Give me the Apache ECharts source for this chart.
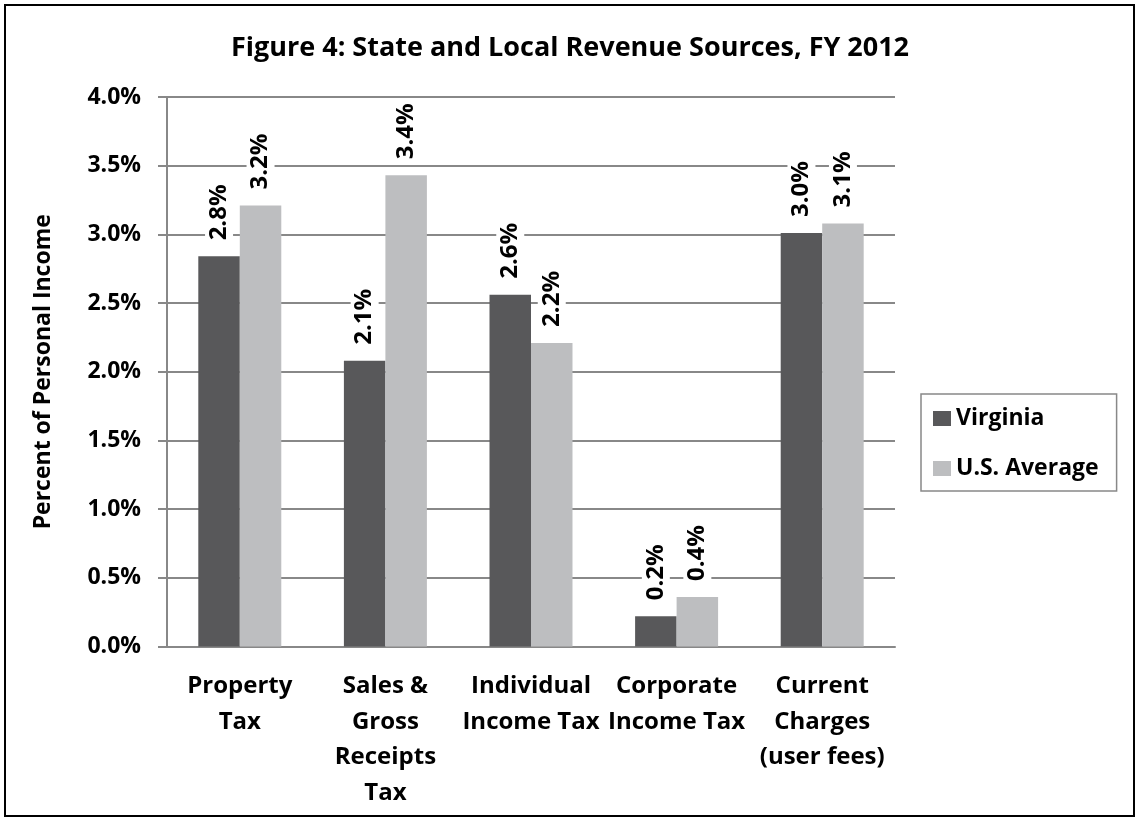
<!DOCTYPE html>
<html>
<head>
<meta charset="utf-8">
<script src="https://cdn.jsdelivr.net/npm/echarts@6/dist/echarts.min.js"></script>
<style>
html,body{margin:0;padding:0;background:#fff;}
#c{width:1140px;height:823px;}
</style>
</head>
<body>
<div id="c"></div>
<script>
const categories = ['Property\nTax', 'Sales &\nGross\nReceipts\nTax', 'Individual\nIncome Tax', 'Corporate\nIncome Tax', 'Current\nCharges\n(user fees)'];
const virginia = [2.84, 2.08, 2.56, 0.22, 3.01];
const usAverage = [3.21, 3.43, 2.21, 0.36, 3.08];
const seriesNames = ['Virginia', 'U.S. Average'];
const yTicks = {min: 0, max: 4, interval: 0.5};

const FONT = '"Open Sans"';
const chart = echarts.init(document.getElementById('c'));
const labelCfg = {
  show: true,
  position: 'top',
  rotate: 90,
  align: 'left',
  verticalAlign: 'middle',
  distance: 12,
  fontFamily: FONT,
  fontWeight: 'bold',
  fontSize: 24,
  color: '#000',
  backgroundColor: '#fff',
  padding: [2, 4, 2, 4],
  formatter: p => p.value.toFixed(1) + '%'
};
chart.setOption({
  backgroundColor: '#fff',
  animation: false,
  textStyle: {fontFamily: FONT},
  title: {
    text: 'Figure 4: State and Local Revenue Sources, FY 2012',
    left: 'center',
    top: 30,
    textStyle: {fontFamily: FONT, fontWeight: 'bold', fontSize: 27, color: '#000'}
  },
  graphic: [{
    type: 'rect',
    shape: {x: 5, y: 5, width: 1129, height: 811},
    style: {fill: 'none', stroke: '#000', lineWidth: 2},
    silent: true
  }],
  legend: {
    orient: 'vertical',
    left: 921,
    top: 394,
    padding: [13, 18, 11, 12],
    itemGap: 27,
    itemWidth: 18,
    itemHeight: 15,
    borderColor: '#888',
    borderWidth: 1.5,
    icon: 'rect',
    textStyle: {fontFamily: FONT, fontWeight: 'bold', fontSize: 23, color: '#000'},
    data: seriesNames
  },
  grid: {left: 167, right: 245, top: 97, bottom: 176.5, containLabel: false},
  xAxis: {
    type: 'category',
    data: categories,
    axisLine: {lineStyle: {color: '#888', width: 2}},
    axisTick: {show: false},
    axisLabel: {
      interval: 0,
      margin: 22,
      fontFamily: FONT,
      fontWeight: 'bold',
      fontSize: 24,
      lineHeight: 35.5,
      color: '#000'
    }
  },
  yAxis: {
    type: 'value',
    min: yTicks.min,
    max: yTicks.max,
    interval: yTicks.interval,
    name: 'Percent of Personal Income',
    nameLocation: 'middle',
    nameGap: 112,
    nameTextStyle: {fontFamily: FONT, fontWeight: 'bold', fontSize: 23, color: '#000'},
    axisLine: {show: true, lineStyle: {color: '#888', width: 2}},
    axisTick: {show: true, length: 9, lineStyle: {color: '#888', width: 2}},
    splitLine: {lineStyle: {color: '#888', width: 2}},
    axisLabel: {
      margin: 26,
      fontFamily: FONT,
      fontWeight: 'bold',
      fontSize: 23,
      color: '#000',
      formatter: v => v.toFixed(1) + '%'
    }
  },
  series: [
    {
      name: seriesNames[0],
      type: 'bar',
      data: virginia,
      barGap: '0%',
      barCategoryGap: '43%',
      itemStyle: {color: '#58585a'},
      label: labelCfg
    },
    {
      name: seriesNames[1],
      type: 'bar',
      data: usAverage,
      itemStyle: {color: '#bdbec0'},
      label: labelCfg
    }
  ]
});
</script>
</body>
</html>
